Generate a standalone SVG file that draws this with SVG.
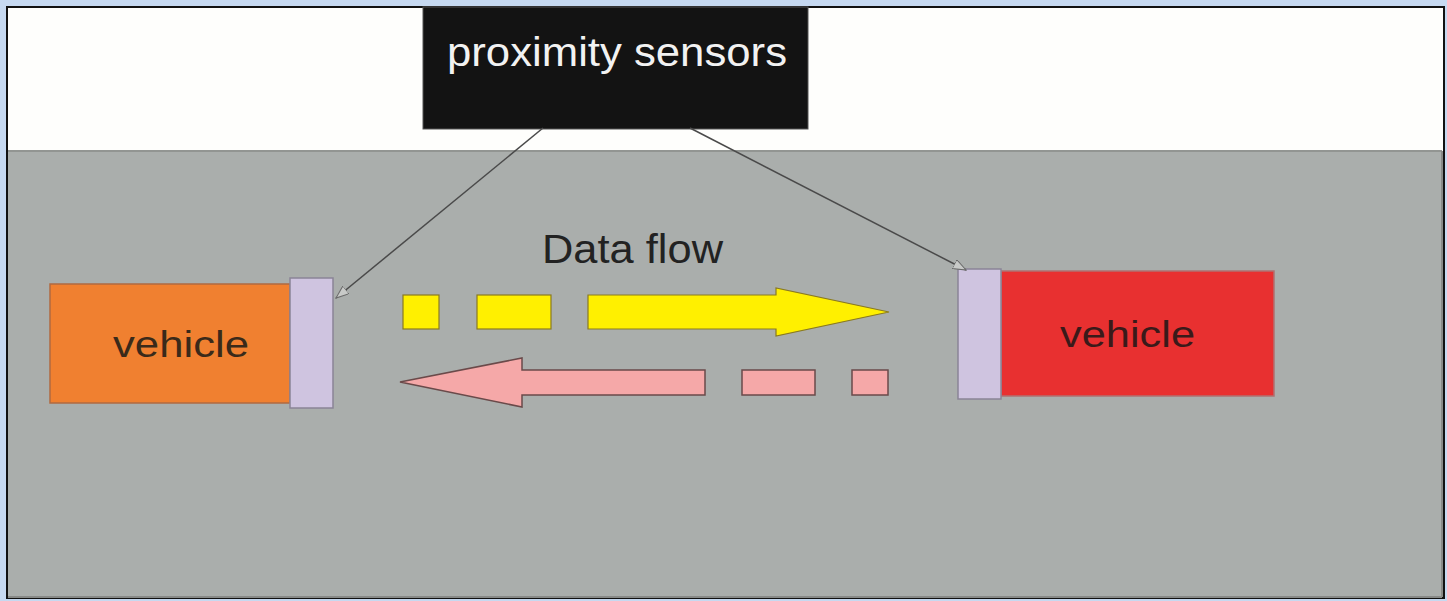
<svg xmlns="http://www.w3.org/2000/svg" width="1447" height="601" viewBox="0 0 1447 601">
<style>
.lbl{font-family:"Liberation Sans",Arial,sans-serif;}
.sensor{fill:#cfc4e0;stroke:#8a8496;stroke-width:1.5;}
.yel{fill:#fff000;stroke:#8a7a20;stroke-width:1.2;}
.pnk{fill:#f5a8a8;stroke:#6a4a4a;stroke-width:1.5;}
.conn{stroke:#4a4a4a;stroke-width:1.5;fill:none;}
</style>
<defs>
<marker id="open" viewBox="0 0 14 10" refX="13" refY="5" markerWidth="14" markerHeight="10" markerUnits="userSpaceOnUse" orient="auto">
<path d="M0,0 L13,5 L0,10 Z" fill="#c8cac8" stroke="#6a6a6a" stroke-width="1"/>
</marker>
</defs>
<rect x="0" y="0" width="1447" height="601" fill="#c6d9f1"/>
<rect x="7" y="7" width="1437" height="591" fill="#fefefc" stroke="#111" stroke-width="2"/>
<rect x="8" y="150" width="1434" height="447" fill="#aaaeac"/>
<line x1="8" y1="151" x2="1442" y2="151" stroke="#8a8c8a" stroke-width="1.5"/>
<line x1="1442" y1="151" x2="1442" y2="597" stroke="#888a88" stroke-width="2"/>
<line x1="8" y1="597" x2="1442" y2="597" stroke="#888a88" stroke-width="2"/>
<g id="proximity-sensors">
<rect x="423" y="7" width="385" height="122" fill="#131313" stroke="#555" stroke-width="1"/>
<text class="lbl" x="447" y="66" font-size="40" fill="#f2f2f2" textLength="340" lengthAdjust="spacingAndGlyphs">proximity sensors</text>
</g>
<g id="data-flow-label">
<text class="lbl" x="542" y="263" font-size="41" fill="#222" textLength="181" lengthAdjust="spacingAndGlyphs">Data flow</text>
</g>
<g id="vehicle-left">
<rect x="50" y="284" width="240" height="119" fill="#f08030" stroke="#b06a40" stroke-width="1.5"/>
<text class="lbl" x="113" y="357" font-size="36" fill="#3a2a1a" textLength="136" lengthAdjust="spacingAndGlyphs">vehicle</text>
<rect class="sensor" x="290" y="278" width="43" height="130"/>
</g>
<g id="vehicle-right">
<rect x="1001" y="271" width="273" height="125" fill="#e83030" stroke="#b07070" stroke-width="1.5"/>
<text class="lbl" x="1060" y="347" font-size="36" fill="#3a1a1a" textLength="135" lengthAdjust="spacingAndGlyphs">vehicle</text>
<rect class="sensor" x="958" y="269" width="43" height="130"/>
</g>
<g id="flow-right">
<rect class="yel" x="403" y="295" width="36" height="34"/>
<rect class="yel" x="477" y="295" width="74" height="34"/>
<path class="yel" d="M588,295 L776,295 L776,288 L889,312 L776,336 L776,329 L588,329 Z"/>
</g>
<g id="flow-left">
<path class="pnk" d="M705,370 L522,370 L522,358 L400,382 L522,407 L522,395 L705,395 Z"/>
<rect class="pnk" x="742" y="370" width="73" height="25"/>
<rect class="pnk" x="852" y="370" width="36" height="25"/>
</g>
<g id="connectors">
<line class="conn" x1="543" y1="128" x2="336" y2="298" marker-end="url(#open)"/>
<line class="conn" x1="690" y1="128" x2="966" y2="270" marker-end="url(#open)"/>
</g>
</svg>
